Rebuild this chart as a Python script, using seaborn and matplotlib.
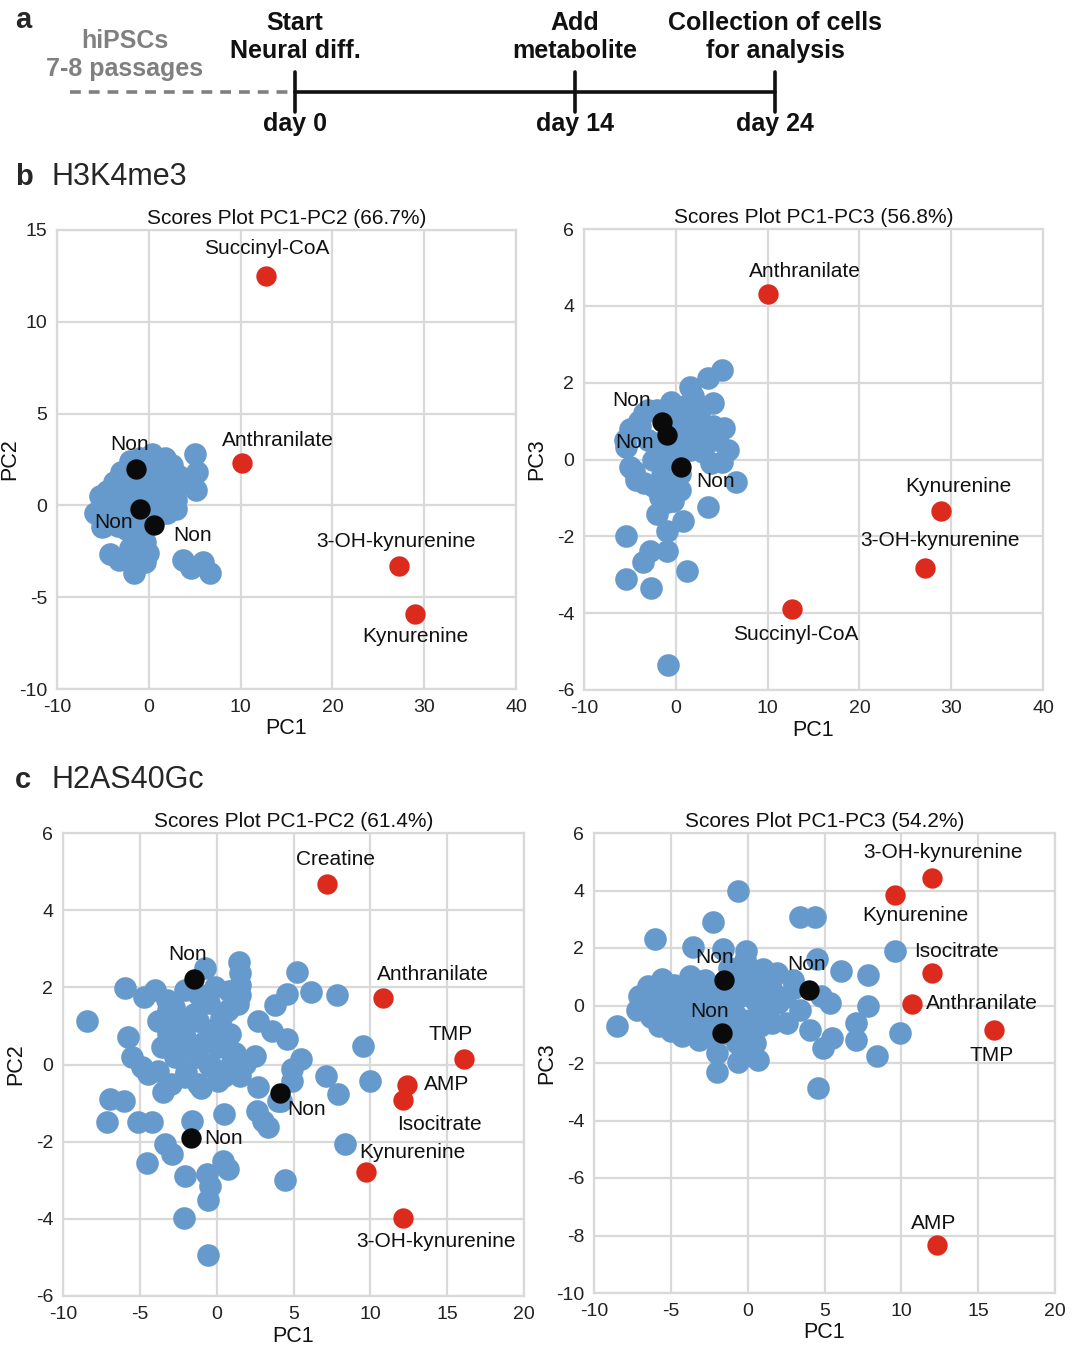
import numpy as np
import pandas as pd
import matplotlib
matplotlib.use("Agg")
import matplotlib.pyplot as plt
from matplotlib import font_manager
import seaborn as sns

# ---- data: H3K4me3, PC1-PC2 ----
b12_blue_x = [5.0, 5.2, 5.1, -5.3, -5.9, -5.1, -4.2, -3.3, -2.1, -1.6, -0.45, -0.1, -0.45, 3.7, 4.6, 5.9, 6.7,
              -3.8, -2.3, 0.3, 1.8, 2.5, 3.3, 2.5, 1.4, 2.5, -3.1, -4.2, -2.7, -3.4, -4.9, 0.7, -0.45, -1.9, 1.0,
              -1.0, 0.2, 1.0, -2.5, -0.8, -4.5, -3.0, -2.0, -1.0, 0.0, 1.0, 2.0, -4.0, -3.0, -2.0, -1.0, 0.0,
              1.0, 2.0, 3.0, -2.5, -1.5, -0.5, 0.5, -3.5, 3.0, 4.0, 1.5, -1.2, -2.0]
b12_blue_y = [2.8, 1.8, 0.85, 0.5, -0.4, -1.2, -2.65, -3.0, -2.3, -3.7, -3.1, -2.6, -2.0, -3.0, -3.4, -3.1, -3.7,
              1.25, 2.0, 2.8, 2.6, 2.2, 1.6, 0.1, 0.5, 0.85, 0.1, -0.3, -0.9, -1.1, -1.1, 1.6, 1.25, 1.05, -0.3,
              0.6, 0.3, 1.2, 0.6, -1.0, 0.8, 1.8, 2.4, 2.6, 2.6, 2.4, 2.0, -0.8, -0.4, 0.3, 1.0, 0.2,
              -0.5, -0.4, 0.3, -1.3, -1.0, -0.6, 1.8, 0.5, -0.2, 1.2, 1.2, -1.6, -2.7]
b12_red_x = [12.8, 10.1, 27.3, 29.0]
b12_red_y = [12.5, 2.3, -3.3, -5.9]
b12_red_lab = ["Succinyl-CoA", "Anthranilate", "3-OH-kynurenine", "Kynurenine"]
b12_red_off = [(0, 27), (36, 23), (-3, 24), (0, -23)]
b12_non_x = [-1.4, -1.0, 0.6]
b12_non_y = [2.0, -0.2, -1.05]
b12_non_off = [(-6, 24), (-26, -13), (38, -11)]

# ---- data: H3K4me3, PC1-PC3 ----
b13_blue_x = [5.0, 3.5, 1.5, 4.1, 5.2, 5.7, 5.0, 6.6, 3.5, 0.8, -2.1, -1.0, -5.4, -1.0, -2.8, -3.6, -5.4, -2.7,
              1.2, -0.8, -5.4, -5.0, -4.3, -3.0, -3.9, -0.65, 1.5, 2.6, 1.5, 0.44, -1.0, -0.3, -1.75, -2.5, 2.6,
              4.1, 1.9, 0.07, -2.1, -5.5, -5.0, -4.0, -3.0, -2.0, -1.0, 0.0, 1.0, -4.5, -3.5, -2.5, -1.5, -0.5,
              0.5, -1.0, 0.0, -2.0, 2.0, 3.0, 3.8, 1.0, -3.5, -0.5, 2.5, 4.5]
b13_blue_y = [2.34, 2.12, 1.9, 1.47, 0.81, 0.24, -0.06, -0.59, -1.24, -1.59, -1.41, -1.85, -1.98, -2.38, -2.38,
              -2.68, -3.12, -3.34, -2.9, -5.35, 0.33, -0.19, -0.54, 1.29, 0.86, 1.2, 1.1, 0.68, 0.24, -0.37, -0.8,
              -1.07, -0.98, 0.0, 1.38, 0.86, 1.64, 0.6, 0.42, 0.5, 0.8, 1.0, 0.5, 0.2, 0.0, 0.3, 0.6, -0.3, -0.6,
              -0.7, -0.4, -0.5, -0.8, -1.1, 1.0, 1.3, 0.5, 0.2, -0.1, 1.4, 1.2, 1.5, 1.2, 0.5]
b13_red_x = [10.0, 28.9, 27.2, 12.7]
b13_red_y = [4.3, -1.34, -2.82, -3.9]
b13_red_lab = ["Anthranilate", "Kynurenine", "3-OH-kynurenine", "Succinyl-CoA"]
b13_red_off = [(37, 23), (17, 24), (15, 27), (3, -25)]
b13_non_x = [-1.5, -1.0, 0.56]
b13_non_y = [0.97, 0.63, -0.2]
b13_non_off = [(-30, 22), (-32, -7), (35, -14)]

# ---- data: H2AS40Gc, PC1-PC2 ----
c12_blue_x = [-8.44, -5.95, -4.76, -4.0, -3.25, -5.74, -5.5, -4.44, -3.46, -6.93, -6.06, -7.14, -5.09, -4.2, -1.62,
              -3.35, -2.9, -4.55, -2.06, -0.65, -0.43, -0.54, 0.43, 0.76, -2.1, -0.58, 4.44, 0.5, 2.7, 2.6, 3.35,
              3.0, 4.0, 4.87, 5.5, 4.87, 2.5, 1.84, 2.7, 3.57, 4.55, 3.79, 4.55, 5.26, 6.13, 7.8, 9.5, 9.96, 7.14,
              7.9, 8.33, -0.76, 1.47, 1.52, 1.52, 1.52, 1.4, 0.76, -0.1, -1.19, -2.06, -3.14, -3.79, -2.49, -1.19,
              -0.32, 0.87, -2.06, -3.57, -2.7, -1.19, -0.32, 0.97, -2.06, -1.19, 0.11, -3.79, -4.87, -0.76, 0.11,
              -3.14, 4.2, -2.5, -1.5, -0.5, 0.5, -1.0, -2.0, 1.2, -1.5, -0.5, 0.3, -3.0, 1.5, -0.3, 0.8, -2.8]
c12_blue_y = [1.14, 1.97, 1.75, 1.93, 1.67, 0.71, 0.19, -0.24, -0.72, -0.89, -0.94, -1.5, -1.5, -1.5, -1.46,
              -2.06, -2.32, -2.54, -2.89, -2.84, -3.15, -3.5, -2.5, -2.71, -3.97, -4.93, -3.0, -1.28, -0.59, -1.2,
              -1.63, -1.46, -0.94, -0.42, 0.15, -0.11, 0.23, 0.02, 1.14, 0.88, 0.67, 1.54, 1.84, 2.4, 1.88, 1.8,
              0.49, -0.42, -0.29, -0.76, -2.06, 2.49, 2.66, 2.36, 2.06, 1.8, 1.58, 1.4, 2.01, 1.84, 1.93, 1.4,
              1.14, 1.06, 1.14, 0.88, 0.8, 0.71, 0.45, 0.19, 0.19, -0.07, 0.06, -0.33, -0.5, -0.42, -0.16, -0.07,
              0.62, 0.45, 0.8, -0.95, 0.5, 0.3, 0.0, -0.3, -0.6, -0.2, 0.3, 1.3, 1.6, 1.2, -0.5, -0.3, 0.9, 1.9, 1.5]
c12_red_x = [7.2, 10.8, 16.1, 12.4, 12.1, 9.7, 12.1]
c12_red_y = [4.68, 1.73, 0.13, -0.53, -0.93, -2.78, -3.98]
c12_red_lab = ["Creatine", "Anthranilate", "TMP", "AMP", "Isocitrate", "Kynurenine", "3-OH-kynurenine"]
c12_red_off = [(8, 24), (50, 23), (-13, 25), (39, 0), (37, -24), (47, 19), (33, -23)]
c12_non_x = [-1.5, 4.1, -1.7]
c12_non_y = [2.22, -0.73, -1.91]
c12_non_off = [(-6, 24), (27, -17), (33, 0)]

# ---- data: H2AS40Gc, PC1-PC3 ----
c13_blue_x = [-0.65, -2.27, -6.02, -3.53, -1.62, -0.11, 3.4, 4.37, 4.48, 6.1, 7.84, 9.56, 7.84, 7.08, 7.08, 8.4,
              9.9, 4.8, 5.35, 4.05, 4.9, 5.5, 4.55, -8.5, -7.1, -7.2, -6.5, -5.8, -5.56, -4.3, -3.74, -3.14, -2.0,
              -2.0, -0.6, 0.7, 0.48, -0.7, 1.0, 1.88, 2.53, 3.4, 2.97, 1.45, 0.58, -0.5, -2.66, -4.2, -5.04, -3.74,
              -1.15, 0.15, -1.58, -3.14, -5.9, -0.06, -0.93, -4.83, -1.2, -0.2, 0.9, -2.3,
              -6.8, -6.0, -5.3, -4.5, -4.0, -3.2, -2.5, -1.8, -1.0, -0.3, 0.5, 1.2, 2.0, -6.3, -5.5, -4.7, -4.0,
              -3.0, -2.3, -1.5, -0.8, 0.0, 0.8, 1.6, -0.5, -1.2, -2.5, -3.5, -5.0, -0.3, 0.7, 1.5, 2.4, -4.8,
              -2.8, -1.2, 0.0, -0.2, 3.0]
c13_blue_y = [4.0, 2.91, 2.33, 2.05, 1.98, 1.9, 3.09, 3.09, 1.63, 1.2, 1.05, 1.89, -0.02, -0.61, -1.19, -1.77,
              -0.96, 0.33, 0.09, -0.84, -1.48, -1.13, -2.88, -0.7, 0.33, -0.14, 0.68, -0.72, 0.91, -1.07, 1.03,
              -1.19, -1.66, -2.3, -1.95, -1.89, -1.3, -1.3, 1.26, 1.14, -0.6, -0.14, 0.9, 0.09, 0.56, 0.33, 0.33,
              0.09, -0.37, -0.49, -0.49, -0.49, 0.09, -0.37, 0.09, 1.38, 1.03, 0.56, 0.7, -0.9, 0.3, 0.6,
              0.2, 0.1, 0.4, 0.2, 0.5, 0.5, 0.2, 0.4, 0.2, 0.6, 0.2, -0.2, 0.1, -0.4, -0.3, -0.6, -0.8,
              -0.8, -0.5, -0.2, -0.3, -0.8, -0.7, -0.6, -1.2, -1.0, -1.0, -0.2, -0.9, 1.1, 1.2, 0.6, 0.3, 0.7,
              0.9, 1.3, -1.6, 1.6, 0.6]
c13_red_x = [12.0, 9.6, 12.0, 10.7, 16.0, 12.3]
c13_red_y = [4.43, 3.86, 1.12, 0.06, -0.86, -8.34]
c13_red_lab = ["3-OH-kynurenine", "Kynurenine", "Isocitrate", "Anthranilate", "TMP", "AMP"]
c13_red_off = [(11, 26), (20, -21), (24, 22), (70, 0), (-2, -25), (-3, 22)]
c13_non_x = [-1.57, 4.0, -1.7]
c13_non_y = [0.9, 0.54, -0.94]
c13_non_off = [(-9, 22), (-3, 25), (-12, 21)]

days = [0, 14, 24]
day_events = ["Start\nNeural diff.", "Add\nmetabolite", "Collection of cells\nfor analysis"]

BLUE = "#6699cc"
RED = "#dc2a1c"
BLACK = "#0a0a0a"
GRID = "#d9d9d9"

sns.set_theme(style="whitegrid")
plt.rcParams["font.family"] = ["Liberation Sans", "DejaVu Sans"]
plt.rcParams["axes.unicode_minus"] = False

names = {f.name for f in font_manager.fontManager.ttflist}
NARROW = "Liberation Sans Narrow" if "Liberation Sans Narrow" in names else "Liberation Sans"
narrow_size = 21 if NARROW == "Liberation Sans Narrow" else 18

W, H = 1081, 1349
fig = plt.figure(figsize=(W / 100, H / 100), dpi=100)


def box(l, t, r, b):
    return [l / W, 1 - b / H, (r - l) / W, (b - t) / H]


def scores(rect, title, ylab, xlim, ylim, xt, yt, bx, by, rx, ry, rlab, roff, nx, ny, noff):
    ax = fig.add_axes(rect)
    blue = pd.DataFrame({"x": bx, "y": by})
    red = pd.DataFrame({"x": rx, "y": ry})
    non = pd.DataFrame({"x": nx, "y": ny})
    sns.scatterplot(data=blue, x="x", y="y", color=BLUE, s=265, linewidth=0, alpha=1, ax=ax, zorder=3)
    sns.scatterplot(data=red, x="x", y="y", color=RED, s=215, linewidth=0, ax=ax, zorder=4)
    sns.scatterplot(data=non, x="x", y="y", color=BLACK, s=215, linewidth=0, ax=ax, zorder=5)
    for x, y, t, o in zip(rx, ry, rlab, roff):
        ax.annotate(t, (x, y), xytext=o, textcoords="offset pixels", ha="center", va="center",
                    fontsize=15, color="#111111", zorder=6)
    for x, y, o in zip(nx, ny, noff):
        ax.annotate("Non", (x, y), xytext=o, textcoords="offset pixels", ha="center", va="center",
                    fontsize=15, color="#111111", zorder=6)
    ax.set_xlim(xlim)
    ax.set_ylim(ylim)
    ax.set_xticks(xt)
    ax.set_yticks(yt)
    ax.grid(True, color=GRID, linewidth=1.6)
    for sp in ax.spines.values():
        sp.set_color(GRID)
        sp.set_linewidth(1.6)
    ax.tick_params(length=0, labelsize=14, labelcolor="#222222", pad=7)
    ax.set_title(title, fontsize=15, pad=4, color="#111111")
    ax.set_xlabel("PC1", fontsize=15.5, labelpad=2, color="#111111")
    ax.set_ylabel(ylab, fontsize=15.5, color="#111111")
    # y label about 37 px left of the frame
    ax.yaxis.set_label_coords(-37 / (rect[2] * W), 0.5)
    return ax


scores(box(57, 230, 516, 689), "Scores Plot PC1-PC2 (66.7%)", "PC2", (-10, 40), (-10, 15),
       range(-10, 41, 10), range(-10, 16, 5), b12_blue_x, b12_blue_y, b12_red_x, b12_red_y,
       b12_red_lab, b12_red_off, b12_non_x, b12_non_y, b12_non_off)
scores(box(584, 229, 1043, 690), "Scores Plot PC1-PC3 (56.8%)", "PC3", (-10, 40), (-6, 6),
       range(-10, 41, 10), range(-6, 7, 2), b13_blue_x, b13_blue_y, b13_red_x, b13_red_y,
       b13_red_lab, b13_red_off, b13_non_x, b13_non_y, b13_non_off)
scores(box(63, 833, 524, 1296), "Scores Plot PC1-PC2 (61.4%)", "PC2", (-10, 20), (-6, 6),
       range(-10, 21, 5), range(-6, 7, 2), c12_blue_x, c12_blue_y, c12_red_x, c12_red_y,
       c12_red_lab, c12_red_off, c12_non_x, c12_non_y, c12_non_off)
scores(box(594, 833, 1055, 1293), "Scores Plot PC1-PC3 (54.2%)", "PC3", (-10, 20), (-10, 6),
       range(-10, 21, 5), range(-10, 7, 2), c13_blue_x, c13_blue_y, c13_red_x, c13_red_y,
       c13_red_lab, c13_red_off, c13_non_x, c13_non_y, c13_non_off)

# panel headers
fig.text(15 / W, 1 - 177 / H, "b", fontsize=21, fontweight="bold", va="center")
fig.text(51 / W, 1 - 177 / H, "H3K4me3", fontsize=22, va="center")
fig.text(15 / W, 1 - 780 / H, "c", fontsize=21, fontweight="bold", va="center")
fig.text(51 / W, 1 - 780 / H, "H2AS40Gc", fontsize=22, va="center")

# panel a: timeline (x in days, y in pixels)
ax_a = fig.add_axes([0, 1 - 145 / H, 1, 145 / H])
ax_a.set_xlim(-14.75, 39.3)
ax_a.set_ylim(145, 0)
ax_a.axis("off")
ax_a.plot([-11.25, 0], [92, 92], color="#808080", linewidth=2.6, linestyle=(0, (3, 2.2)))
ax_a.plot([days[0], days[-1]], [92, 92], color="#111111", linewidth=2.6)
for d, ev in zip(days, day_events):
    ax_a.plot([d, d], [72, 112], color="#111111", linewidth=2.6)
    ax_a.text(d, 37, ev, ha="center", va="center", fontsize=narrow_size, fontweight="bold",
              family=NARROW, linespacing=1.22, color="#111111")
    ax_a.text(d, 124, f"day {d}", ha="center", va="center", fontsize=narrow_size, fontweight="bold",
              family=NARROW, color="#111111")
ax_a.text(-8.5, 55, "hiPSCs\n7-8 passages", ha="center", va="center", fontsize=narrow_size,
          fontweight="bold", family=NARROW, linespacing=1.22, color="#808080")
fig.text(15 / W, 1 - 20 / H, "a", fontsize=21, fontweight="bold", va="center")

fig.savefig("out.png", dpi=100)
